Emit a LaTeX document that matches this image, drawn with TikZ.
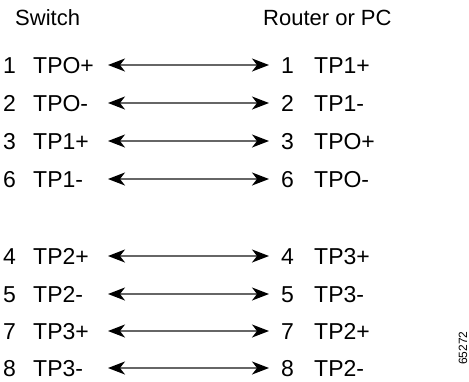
\documentclass[tikz,border=0pt]{standalone}
\usepackage{fontspec}
\setmainfont{Liberation Sans}
\usepackage{tikz}
\usetikzlibrary{arrows.meta, positioning}
\definecolor{wiregray}{HTML}{666666}
\tikzset{
  pinnum/.style={anchor=west, inner sep=0pt, text height=16.5pt, text depth=0pt, font=\fontsize{23}{27}\selectfont},
  pinlab/.style={anchor=west, inner sep=0pt, text height=16.5pt, text depth=0pt, font=\fontsize{23}{27}\selectfont},
  headlab/.style={anchor=west, inner sep=0pt, text height=16pt, text depth=0pt, font=\fontsize{22}{26}\selectfont},
  wirearrow/.style={{Stealth[length=17pt, width=13pt, inset=5pt, black]}-{Stealth[length=17pt, width=13pt, inset=5pt, black]},
                    line width=1.5pt, wiregray},
}
\begin{document}
\begin{tikzpicture}[x=1pt, y=-1pt]
  \useasboundingbox (0,0) rectangle (469,381);

  \node[headlab] (sw) at (15, 17) {Switch};
  \node[headlab] (rt) at (263, 17) {Router or PC};

  % switch side
  \node[pinnum] (sn1) at (3, 65) {1};   \node[pinlab] (sl1) at (33, 65) {TPO+};
  \node[pinnum] (sn2) at (3, 103) {2};  \node[pinlab] (sl2) at (33, 103) {TPO-};
  \node[pinnum] (sn3) at (3, 141) {3};  \node[pinlab] (sl3) at (33, 141) {TP1+};
  \node[pinnum] (sn6) at (3, 179) {6};  \node[pinlab] (sl6) at (33, 179) {TP1-};
  \node[pinnum] (sn4) at (3, 256) {4};  \node[pinlab] (sl4) at (33, 256) {TP2+};
  \node[pinnum] (sn5) at (3, 294) {5};  \node[pinlab] (sl5) at (33, 294) {TP2-};
  \node[pinnum] (sn7) at (3, 331) {7};  \node[pinlab] (sl7) at (33, 331) {TP3+};
  \node[pinnum] (sn8) at (3, 368) {8};  \node[pinlab] (sl8) at (33, 368) {TP3-};

  % router side
  \node[pinnum] (rn1) at (281, 65) {1};   \node[pinlab] (rl1) at (314, 65) {TP1+};
  \node[pinnum] (rn2) at (281, 103) {2};  \node[pinlab] (rl2) at (314, 103) {TP1-};
  \node[pinnum] (rn3) at (281, 141) {3};  \node[pinlab] (rl3) at (314, 141) {TPO+};
  \node[pinnum] (rn6) at (281, 179) {6};  \node[pinlab] (rl6) at (314, 179) {TPO-};
  \node[pinnum] (rn4) at (281, 256) {4};  \node[pinlab] (rl4) at (314, 256) {TP3+};
  \node[pinnum] (rn5) at (281, 294) {5};  \node[pinlab] (rl5) at (314, 294) {TP3-};
  \node[pinnum] (rn7) at (281, 331) {7};  \node[pinlab] (rl7) at (314, 331) {TP2+};
  \node[pinnum] (rn8) at (281, 368) {8};  \node[pinlab] (rl8) at (314, 368) {TP2-};

  % wire ends
  \coordinate (a1) at (108, 65);   \coordinate (b1) at (269, 65);
  \coordinate (a2) at (108, 103);  \coordinate (b2) at (269, 103);
  \coordinate (a3) at (108, 141);  \coordinate (b3) at (269, 141);
  \coordinate (a6) at (108, 179);  \coordinate (b6) at (269, 179);
  \coordinate (a4) at (108, 256);  \coordinate (b4) at (269, 256);
  \coordinate (a5) at (108, 294);  \coordinate (b5) at (269, 294);
  \coordinate (a7) at (108, 331);  \coordinate (b7) at (269, 331);
  \coordinate (a8) at (108, 368);  \coordinate (b8) at (269, 368);

  \draw[wirearrow] (a1) -- (b1);
  \draw[wirearrow] (a2) -- (b2);
  \draw[wirearrow] (a3) -- (b3);
  \draw[wirearrow] (a6) -- (b6);
  \draw[wirearrow] (a4) -- (b4);
  \draw[wirearrow] (a5) -- (b5);
  \draw[wirearrow] (a7) -- (b7);
  \draw[wirearrow] (a8) -- (b8);

  \node[rotate=90, anchor=center, inner sep=0pt, font=\fontsize{12}{14}\selectfont] (fig) at (463, 348) {65272};
\end{tikzpicture}
\end{document}
